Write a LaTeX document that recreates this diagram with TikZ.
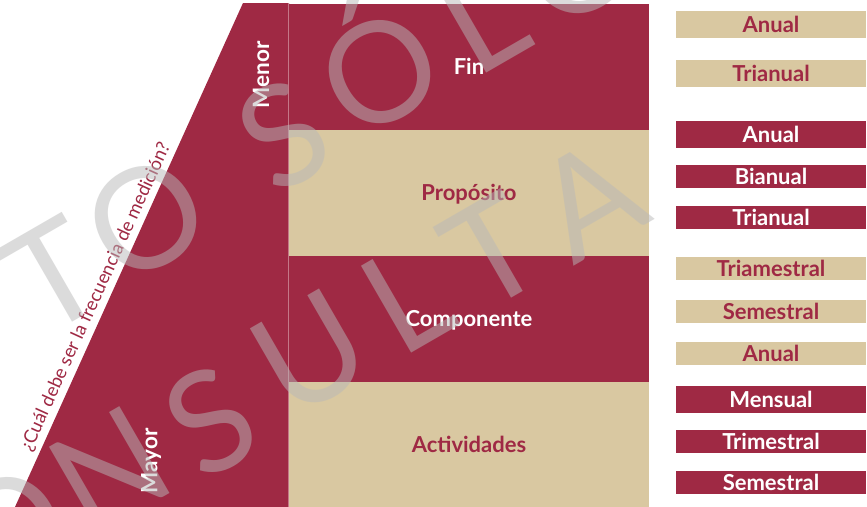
\documentclass[tikz,border=0pt]{standalone}
\usepackage{fontspec}
\setmainfont{Lato}
\definecolor{mrn}{RGB}{159,41,68}
\definecolor{tanc}{RGB}{217,200,161}
\definecolor{wmgray}{RGB}{184,184,184}
\definecolor{sepc}{RGB}{196,120,136}
\begin{document}
\begin{tikzpicture}[x=1pt,y=-1pt,
  lab/.style={font=\fontsize{22}{24}\selectfont\bfseries, inner sep=0pt, text height=15.5pt, text depth=0pt},
  rowbox/.style={lab, minimum width=360pt, minimum height=126pt},
  freqbox/.style={lab, minimum width=190pt},
  onred/.style={fill=mrn, text=white},
  ontan/.style={fill=tanc, text=mrn},
  sidelab/.style={font=\fontsize{22.5}{24}\selectfont\bfseries, text=white, rotate=90, inner sep=0pt},
  question/.style={font=\fontsize{18.5}{20}\selectfont, text=mrn, rotate=65.5, inner sep=0pt},
  wm/.style={font=\fontsize{140}{140}\selectfont, text=wmgray, text opacity=0.5, rotate=30, inner sep=0pt, text height=100pt, text depth=0pt}
]
\useasboundingbox (0,0) rectangle (867,506);
\clip (0,0) rectangle (867,506);
\fill[white] (0,0) rectangle (867,506);

% left slanted band
\coordinate (ptl) at (243,3);
\coordinate (ptr) at (289,3);
\coordinate (pbr) at (289,507);
\coordinate (pbl) at (15,507);
\fill[mrn] (ptl) -- (ptr) -- (pbr) -- (pbl) -- cycle;

% rows
\node[rowbox, onred] (fin) at (469,67) {Fin};
\node[rowbox, ontan] (prop) at (469,193) {Propósito};
\node[rowbox, onred] (comp) at (469,319) {Componente};
\node[rowbox, ontan] (act) at (469,445) {Actividades};

% separator line
\coordinate (septop) at (288.5,3);
\coordinate (sepbot) at (288.5,507);
\draw[sepc, line width=0.9pt] (septop) -- (sepbot);

% side labels
\node[sidelab] (menor) at (261,75) {Menor};
\node[sidelab] (mayor) at (151,461) {Mayor};
\node[question] (q) at (96,297) {¿Cuál debe ser la frecuencia de medición?};

% frequency boxes
\node[freqbox, ontan, minimum height=27pt] (f1) at (771,24.5) {Anual};
\node[freqbox, ontan, minimum height=27pt] (f2) at (771,73.5) {Trianual};
\node[freqbox, onred, minimum height=27pt] (f3) at (771,134.5) {Anual};
\node[freqbox, onred, minimum height=23pt] (f4) at (771,176.5) {Bianual};
\node[freqbox, onred, minimum height=23pt] (f5) at (771,217.5) {Trianual};
\node[freqbox, ontan, minimum height=23pt] (f6) at (771,268.5) {Triamestral};
\node[freqbox, ontan, minimum height=23pt] (f7) at (771,311.5) {Semestral};
\node[freqbox, ontan, minimum height=23pt] (f8) at (771,353.5) {Anual};
\node[freqbox, onred, minimum height=27pt] (f9) at (771,399.5) {Mensual};
\node[freqbox, onred, minimum height=23pt] (f10) at (771,441.5) {Trimestral};
\node[freqbox, onred, minimum height=23pt] (f11) at (771,482.5) {Semestral};

% watermark
\node[wm] (wa1) at (53,276) {T};
\node[wm] (wa2) at (146,218) {O};
\node[wm] (wa3) at (283,135) {S};
\node[wm] (wa4) at (380,72) {Ó};
\node[wm] (wa5) at (482,18) {L};
\node[wm] (wa6) at (578,-38) {O};
\node[wm] (wb1) at (8,529) {O};
\node[wm] (wb2) at (110,470) {N};
\node[wm] (wb3) at (210,421) {S};
\node[wm] (wb4) at (310,352) {U};
\node[wm] (wb5) at (407,298) {L};
\node[wm] (wb6) at (492,252) {T};
\node[wm] (wb7) at (590,200) {A};
\end{tikzpicture}
\end{document}
